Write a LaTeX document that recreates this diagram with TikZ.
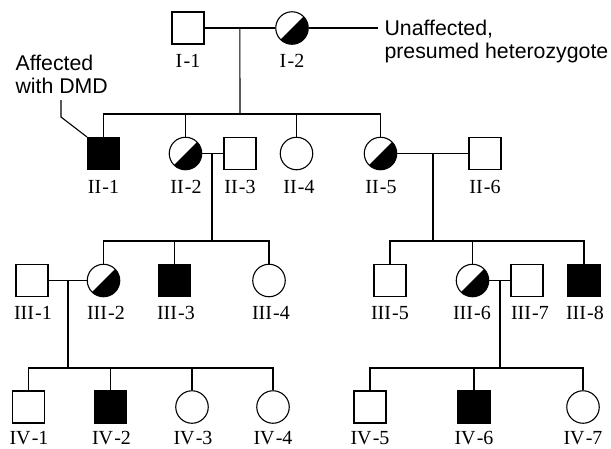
\documentclass[tikz,border=0pt]{standalone}
\usepackage{fontspec}
\usetikzlibrary{calc}
\setmainfont{Liberation Serif}
\newfontfamily\notefont{Liberation Sans}
% pedigree identifier: generation numeral, hyphen, individual number
\newcommand{\pid}[2]{#1\kern1.2pt-#2}
\begin{document}
\begin{tikzpicture}[x=1pt,y=1pt,
  line width=1.1pt,
  male/.style={draw,rectangle,minimum size=32pt,inner sep=0pt},
  female/.style={draw,circle,minimum size=32.5pt,inner sep=0pt},
  affected/.style={fill=black},
  carrier/.style={female,path picture={
      \fill (path picture bounding box.north east) -- (path picture bounding box.south west)
            -- (path picture bounding box.south east) -- cycle;}},
  idlabel/.style={anchor=base,inner sep=0pt,font=\fontsize{20}{22}\selectfont},
  note/.style={anchor=north west,inner sep=0pt,align=left,
      font=\notefont\fontsize{21.3}{23.5}\selectfont}]
\useasboundingbox (0,0) rectangle (611,-448);

% generation I
\node[male]    (I1) at (188,-28) {};
\node[carrier] (I2) at (292,-28) {};
% generation II
\node[male,affected] (II1) at (103.5,-153.5) {};
\node[carrier] (II2) at (185.5,-153.5) {};
\node[male]    (II3) at (240,-153.5) {};
\node[female]  (II4) at (296.5,-153.5) {};
\node[carrier] (II5) at (380.5,-153.5) {};
\node[male]    (II6) at (485,-153.5) {};
% generation III
\node[male]    (III1) at (32,-280.5) {};
\node[carrier] (III2) at (103.5,-280.5) {};
\node[male,affected] (III3) at (174.5,-280.5) {};
\node[female]  (III4) at (269,-280.5) {};
\node[male]    (III5) at (390,-280.5) {};
\node[carrier] (III6) at (472.5,-280.5) {};
\node[male]    (III7) at (527,-280.5) {};
\node[male,affected] (III8) at (584,-280.5) {};
% generation IV
\node[male]    (IV1) at (28.5,-407) {};
\node[male,affected] (IV2) at (110.5,-407) {};
\node[female]  (IV3) at (192,-407) {};
\node[female]  (IV4) at (273,-407) {};
\node[male]    (IV5) at (370,-407) {};
\node[male,affected] (IV6) at (474,-407) {};
\node[female]  (IV7) at (583,-407) {};

% identifiers
\node[idlabel] (lI1) at (188,-67) {\pid{I}{1}};
\node[idlabel] (lI2) at (292,-67) {\pid{I}{2}};
\node[idlabel] (lII1) at (103.5,-193) {\pid{II}{1}};
\node[idlabel] (lII2) at (186,-193) {\pid{II}{2}};
\node[idlabel] (lII3) at (240,-193) {\pid{II}{3}};
\node[idlabel] (lII4) at (299,-193) {\pid{II}{4}};
\node[idlabel] (lII5) at (381,-193) {\pid{II}{5}};
\node[idlabel] (lII6) at (485,-193) {\pid{II}{6}};
\node[idlabel] (lIII1) at (33,-319.5) {\pid{III}{1}};
\node[idlabel] (lIII2) at (106,-319.5) {\pid{III}{2}};
\node[idlabel] (lIII3) at (176,-319.5) {\pid{III}{3}};
\node[idlabel] (lIII4) at (271,-319.5) {\pid{III}{4}};
\node[idlabel] (lIII5) at (390,-319.5) {\pid{III}{5}};
\node[idlabel] (lIII6) at (472,-319.5) {\pid{III}{6}};
\node[idlabel] (lIII7) at (530,-319.5) {\pid{III}{7}};
\node[idlabel] (lIII8) at (585,-319.5) {\pid{III}{8}};
\node[idlabel] (lIV1) at (29,-444) {\pid{IV}{1}};
\node[idlabel] (lIV2) at (111.5,-444) {\pid{IV}{2}};
\node[idlabel] (lIV3) at (193,-444) {\pid{IV}{3}};
\node[idlabel] (lIV4) at (273,-444) {\pid{IV}{4}};
\node[idlabel] (lIV5) at (370,-444) {\pid{IV}{5}};
\node[idlabel] (lIV6) at (474,-444) {\pid{IV}{6}};
\node[idlabel] (lIV7) at (583,-444) {\pid{IV}{7}};

% annotations
\node[note] (het) at (384,-19.5) {Unaffected,\\presumed heterozygote};
\node[note] (aff) at (15,-54.5) {Affected\\with DMD};
\coordinate (k1) at (61,-100);
\coordinate (k2) at (61,-117);
\draw (I2.east) -- ([xshift=-6pt]I2.east -| het.west);
\draw (k1) -- (k2) -- (II1.north west);

% matings and descent lines
\draw (I1.east) -- (I2.west);
\coordinate (d1) at ($(I1.east)!0.5!(I2.west)$);
\coordinate (s1) at (240,-114);
\draw (d1) -- (s1);
\draw (II1.north) |- (s1) -| (II5.north);
\draw (II2.north) -- (II2.north |- s1);
\draw (II4.north) -- (II4.north |- s1);

\draw (II2.east) -- (II3.west);
\coordinate (d2) at (212,-153.5);
\coordinate (s2) at (212,-241);
\draw (d2) -- (s2);
\draw (III2.north) |- (s2) -| (III4.north);
\draw (III3.north) -- (III3.north |- s2);

\draw (II5.east) -- (II6.west);
\coordinate (d3) at (433,-153.5);
\coordinate (s3) at (433,-241);
\draw (d3) -- (s3);
\draw (III5.north) |- (s3) -| (III8.north);
\draw (III6.north) -- (III6.north |- s3);

\draw (III1.east) -- (III2.west);
\coordinate (d4) at (68,-280.5);
\coordinate (s4) at (68,-368);
\draw (d4) -- (s4);
\draw (IV1.north) |- (s4) -| (IV4.north);
\draw (IV2.north) -- (IV2.north |- s4);
\draw (IV3.north) -- (IV3.north |- s4);

\draw (III6.east) -- (III7.west);
\coordinate (d5) at (500,-280.5);
\coordinate (s5) at (500,-368);
\draw (d5) -- (s5);
\draw (IV5.north) |- (s5) -| (IV7.north);
\draw (IV6.north) -- (IV6.north |- s5);
\end{tikzpicture}
\end{document}
